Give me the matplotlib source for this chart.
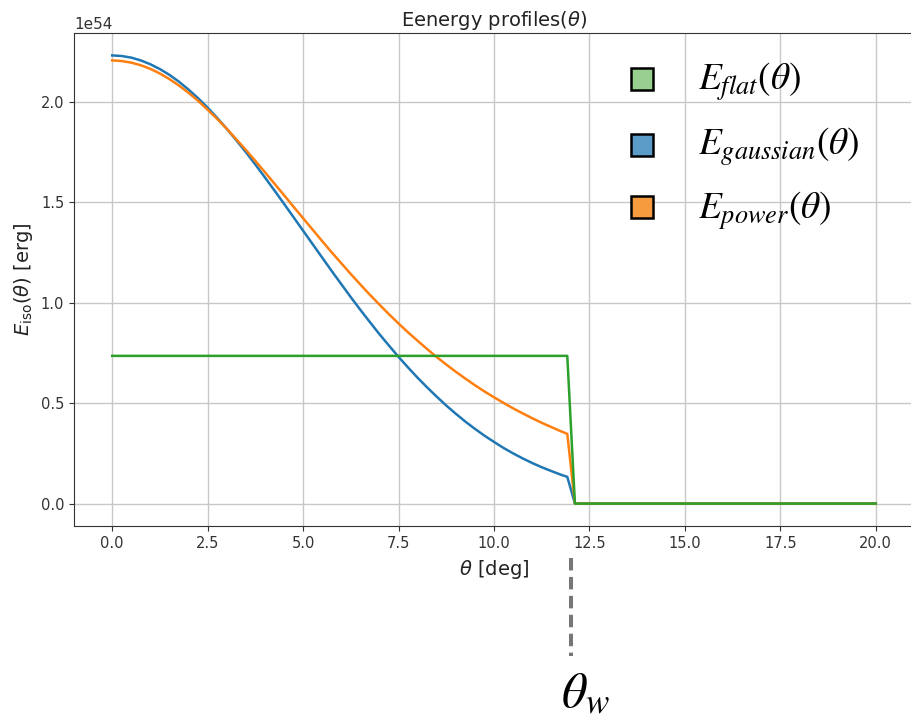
import matplotlib
matplotlib.use('Agg')
import matplotlib.pyplot as plt
import numpy as np
from matplotlib.patches import Rectangle
from matplotlib.lines import Line2D
from matplotlib.transforms import blended_transform_factory

# ---- data (energies in units of 1e54 erg) ----
theta_deg = [0.0, 0.25, 0.5, 0.75, 1.0, 1.25, 1.5, 1.75, 2.0, 2.25, 2.5, 2.75,
             3.0, 3.25, 3.5, 3.75, 4.0, 4.25, 4.5, 4.75, 5.0, 5.25, 5.5, 5.75,
             6.0, 6.25, 6.5, 6.75, 7.0, 7.25, 7.5, 7.75, 8.0, 8.25, 8.5, 8.75,
             9.0, 9.25, 9.5, 9.75, 10.0, 10.25, 10.5, 10.75, 11.0, 11.25,
             11.5, 11.75, 11.92, 12.12, 20.0]
e_gaussian = [2.230, 2.227, 2.219, 2.205, 2.186, 2.162, 2.133, 2.099, 2.060,
              2.017, 1.970, 1.919, 1.865, 1.808, 1.749, 1.687, 1.623, 1.558,
              1.492, 1.425, 1.358, 1.291, 1.224, 1.157, 1.092, 1.027, 0.964,
              0.903, 0.843, 0.786, 0.730, 0.677, 0.626, 0.578, 0.532, 0.488,
              0.447, 0.408, 0.372, 0.338, 0.307, 0.277, 0.250, 0.225, 0.202,
              0.181, 0.162, 0.144, 0.133, 0.0, 0.0]
e_power = [2.205, 2.202, 2.194, 2.181, 2.163, 2.140, 2.112, 2.080, 2.044,
           2.004, 1.960, 1.914, 1.865, 1.813, 1.760, 1.705, 1.649, 1.592,
           1.535, 1.477, 1.420, 1.363, 1.306, 1.250, 1.196, 1.142, 1.090,
           1.039, 0.990, 0.942, 0.896, 0.852, 0.810, 0.769, 0.729, 0.692,
           0.656, 0.622, 0.589, 0.558, 0.529, 0.501, 0.474, 0.449, 0.425,
           0.402, 0.381, 0.360, 0.347, 0.0, 0.0]
e_flat = [0.735] * 49 + [0.0, 0.0]
scale = 1e54
theta_w = 12.03

legend_labels = [r'$E_{flat}(\theta)$', r'$E_{gaussian}(\theta)$', r'$E_{power}(\theta)$']
legend_colors = ['#98d08f', '#5b9bc8', '#f69b3e']

W, H = 912, 717
fig = plt.figure(figsize=(W / 100, H / 100), dpi=100)
ax_w = 856
ax = fig.add_axes([74 / W, (H - 526) / H, ax_w / W, 493 / H])
xc = (494 - 74) / ax_w  # visual centre of the (cropped) axes

th = np.array(theta_deg)
ax.plot(th, np.array(e_gaussian) * scale, color='#1f77b4', lw=1.8)
ax.plot(th, np.array(e_power) * scale, color='#ff7f0e', lw=1.8)
ax.plot(th, np.array(e_flat) * scale, color='#2ca02c', lw=1.8)
ax.set_xlim(-1, 21.42)

ax.grid(True, color='#c8c8c8', lw=1.0)
ax.set_xticks([0, 2.5, 5, 7.5, 10, 12.5, 15, 17.5, 20])
ax.tick_params(labelsize=10.5, colors='#333333')
for s in ax.spines.values():
    s.set_color('#333333')
ax.set_title(r'Eenergy profiles($\theta$)', fontsize=14, color='#222222', pad=5, x=xc)
ax.set_xlabel(r'$\theta$ [deg]', fontsize=14, color='#222222')
ax.xaxis.set_label_coords(xc, -0.065)
ax.set_ylabel(r'$E_{\rm iso}(\theta)$ [erg]', fontsize=14, color='#222222')
ax.yaxis.get_offset_text().set_fontsize(11)

# custom legend
baselines = [90, 155, 219]
sq_centers = [78.5, 144.5, 207.5]
for lab, col, yb, yc in zip(legend_labels, legend_colors, baselines, sq_centers):
    fig.add_artist(Rectangle((631 / W, 1 - (yc + 11) / H), 22 / W, 22 / H,
                             transform=fig.transFigure, facecolor=col,
                             edgecolor='black', lw=1.8))
    fig.text(698 / W, 1 - yb / H, lab, fontsize=27, va='baseline', ha='left',
             math_fontfamily='stix', color='black')

# theta_w marker
tr = blended_transform_factory(ax.transData, fig.transFigure)
fig.add_artist(Line2D([theta_w, theta_w], [1 - 558 / H, 1 - 656 / H],
                      transform=tr, color='#777777', lw=2.9,
                      dashes=(3.1, 1.6), clip_on=False))
fig.text(585 / W, 1 - 707 / H, r'$\theta_w$', fontsize=36, ha='center',
         va='baseline', math_fontfamily='stix', color='black')

fig.savefig('out.png', dpi=100)
